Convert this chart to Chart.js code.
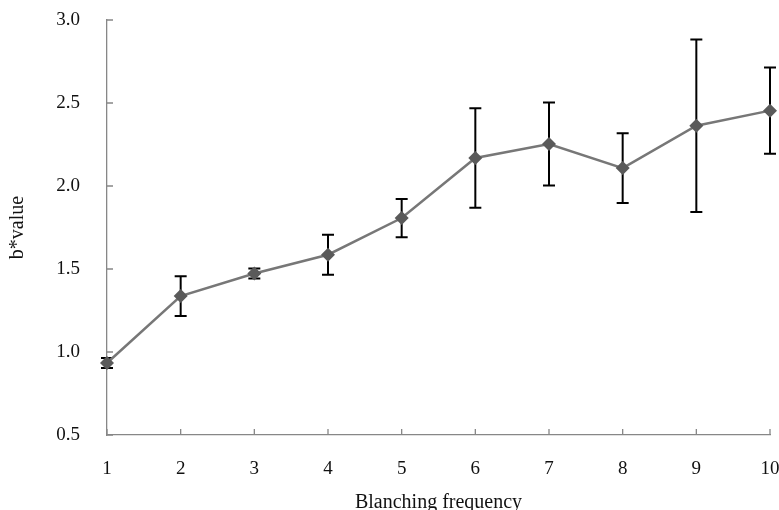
<!DOCTYPE html>
<html>
<head>
<meta charset="utf-8">
<script src="https://cdn.jsdelivr.net/npm/chart.js@4/dist/chart.umd.min.js"></script>
<style>
  html, body { margin: 0; padding: 0; background: #fff; }
  #wrap { width: 779px; height: 510px; }
</style>
</head>
<body>
<div id="wrap"><canvas id="lineChart"></canvas></div>
<script>
const frequencies = ["1", "2", "3", "4", "5", "6", "7", "8", "9", "10"];
const bValues = [0.934, 1.337, 1.473, 1.586, 1.807, 2.169, 2.253, 2.108, 2.363, 2.454];
const bErrors = [0.03, 0.12, 0.03, 0.12, 0.115, 0.30, 0.25, 0.21, 0.52, 0.26];
const yTicks = [0.5, 1.0, 1.5, 2.0, 2.5, 3.0];

const fontFamily = "'Liberation Serif', 'Times New Roman', serif";
const axisColor = "#878787";

// error bars + inside tick marks, placed with the chart's own scales
const errorBarPlugin = {
  id: "errorBars",
  beforeDatasetsDraw(chart) {
    const ctx = chart.ctx;
    const xScale = chart.scales.x, yScale = chart.scales.y;
    ctx.save();
    ctx.strokeStyle = "#000";
    ctx.lineWidth = 2;
    bValues.forEach((v, i) => {
      const x = xScale.getPixelForValue(i);
      const yTop = yScale.getPixelForValue(v + bErrors[i]);
      const yBot = yScale.getPixelForValue(v - bErrors[i]);
      ctx.beginPath();
      ctx.moveTo(x, yTop);
      ctx.lineTo(x, yBot);
      ctx.moveTo(x - 6, yTop);
      ctx.lineTo(x + 6, yTop);
      ctx.moveTo(x - 6, yBot);
      ctx.lineTo(x + 6, yBot);
      ctx.stroke();
    });
    ctx.restore();
  },
  afterDraw(chart) {
    const ctx = chart.ctx;
    const xScale = chart.scales.x, yScale = chart.scales.y;
    const area = chart.chartArea;
    ctx.save();
    ctx.strokeStyle = axisColor;
    ctx.lineWidth = 1.3;
    ctx.beginPath();
    yTicks.forEach((t) => {
      const y = yScale.getPixelForValue(t);
      ctx.moveTo(area.left, y);
      ctx.lineTo(area.left + 6, y);
    });
    frequencies.forEach((f, i) => {
      const x = xScale.getPixelForValue(i);
      ctx.moveTo(x, area.bottom);
      ctx.lineTo(x, area.bottom - 6);
    });
    ctx.stroke();
    ctx.restore();
  },
};

const ctxLine = document.getElementById("lineChart").getContext("2d");
new Chart(ctxLine, {
  type: "line",
  data: {
    labels: frequencies,
    datasets: [
      {
        label: "b*value",
        data: bValues,
        borderColor: "#777777",
        backgroundColor: "#5a5a5a",
        borderWidth: 2.5,
        tension: 0,
        pointStyle: "rectRot",
        pointRadius: 7,
        pointBorderWidth: 0,
        pointBackgroundColor: "#5a5a5a",
        pointBorderColor: "#5a5a5a",
      },
    ],
  },
  options: {
    responsive: true,
    maintainAspectRatio: false,
    animation: false,
    layout: { padding: { left: 0, top: 20, right: 9, bottom: 0 } },
    plugins: {
      legend: { display: false },
      tooltip: { enabled: false },
    },
    scales: {
      x: {
        offset: false,
        afterFit(scale) {
          scale.height = 75;
          scale.paddingLeft = 0;
          scale.paddingRight = 0;
        },
        border: { display: true, color: axisColor, width: 1.3 },
        grid: { display: false, drawTicks: false },
        ticks: {
          color: "#111",
          padding: 23,
          maxRotation: 0,
          font: { family: fontFamily, size: 19 },
        },
        title: {
          display: true,
          text: "Blanching frequency",
          color: "#111",
          padding: { top: 0, bottom: -3 },
          font: { family: fontFamily, size: 20, lineHeight: 1 },
        },
      },
      y: {
        min: 0.5,
        max: 3.0,
        afterFit(scale) {
          scale.width = 107;
          scale.paddingTop = 0;
          scale.paddingBottom = 0;
        },
        afterBuildTicks(scale) { scale.ticks = yTicks.map((v) => ({ value: v })); },
        border: { display: true, color: axisColor, width: 1.3 },
        grid: { display: false, drawTicks: false },
        ticks: {
          color: "#111",
          padding: 27,
          font: { family: fontFamily, size: 19 },
          callback: (v) => Number(v).toFixed(1),
        },
        title: {
          display: true,
          text: "b*value",
          color: "#111",
          padding: { top: 8, bottom: 0 },
          font: { family: fontFamily, size: 20, lineHeight: 1 },
        },
      },
    },
  },
  plugins: [errorBarPlugin],
});
</script>
</body>
</html>
